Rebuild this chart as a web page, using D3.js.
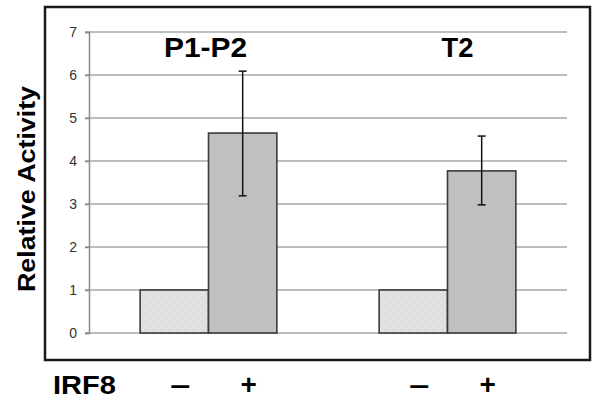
<!DOCTYPE html>
<html>
<head>
<meta charset="utf-8">
<script src="https://cdn.jsdelivr.net/npm/d3@7"></script>
<style>
  body { margin: 0; background: #fff; }
  svg { display: block; font-family: "Liberation Sans", Arial, sans-serif; }
</style>
</head>
<body>
<div id="chartId"></div>
<script>
// data
var groups = ["P1-P2", "T2"];
var conditions = ["-", "+"];
var condLabels = ["\u2013", "+"];
var means = [[1, 4.65], [1, 3.77]];
var errLow = [[null, 3.19], [null, 2.98]];
var errHigh = [[null, 6.09], [null, 4.58]];
var yTicks = [0, 1, 2, 3, 4, 5, 6, 7];

var rows = [];
groups.forEach(function (g, gi) {
  conditions.forEach(function (c, ci) {
    rows.push({ group: g, cond: c, label: condLabels[ci], value: means[gi][ci],
                lo: errLow[gi][ci], hi: errHigh[gi][ci] });
  });
});

var svg = d3.select("div#chartId")
  .append("svg")
  .attr("width", 600)
  .attr("height", 403);

// pattern for the "-" bars (light, faintly dotted)
var pat = svg.append("defs").append("pattern")
  .attr("id", "dots")
  .attr("patternUnits", "userSpaceOnUse")
  .attr("width", 8).attr("height", 8);
pat.append("rect").attr("width", 8).attr("height", 8).attr("fill", "#e2e2e2");
pat.append("rect").attr("x", 1).attr("y", 1).attr("width", 3).attr("height", 3).attr("fill", "#dadada");
pat.append("rect").attr("x", 5).attr("y", 5).attr("width", 2).attr("height", 2).attr("fill", "#dcdcdc");

// outer frame
svg.append("rect")
  .attr("x", 45).attr("y", 7)
  .attr("width", 545).attr("height", 353)
  .attr("fill", "none")
  .attr("stroke", "#1a1a1a")
  .attr("stroke-width", 2.5);

var y = d3.scaleLinear().domain([0, 7]).range([333, 32]);
var x0 = d3.scaleBand().domain(groups).range([89, 567])
  .paddingInner(0.428).paddingOuter(0.214);
var x1 = d3.scaleBand().domain(conditions).range([0, x0.bandwidth()]);

// gridlines
svg.append("g")
  .selectAll("line")
  .data(yTicks)
  .join("line")
  .attr("x1", 85).attr("x2", 567)
  .attr("y1", function (d) { return y(d); })
  .attr("y2", function (d) { return y(d); })
  .attr("stroke", "#a8a8a8")
  .attr("stroke-width", 1.5);

// y axis
var yAxis = svg.append("g")
  .attr("transform", "translate(89,0)")
  .call(d3.axisLeft(y).tickValues(yTicks).tickFormat(d3.format("d")).tickSize(4).tickPadding(8));
yAxis.select(".domain").attr("stroke", "#8a8a8a").attr("stroke-width", 1.5);
yAxis.selectAll(".tick line").attr("stroke", "#8a8a8a").attr("stroke-width", 1.5);
yAxis.selectAll(".tick text")
  .attr("font-size", 14)
  .attr("fill", "#333")
  .attr("font-family", "Liberation Sans, Arial, sans-serif");

svg.append("text")
  .attr("transform", "translate(35,189) rotate(-90)")
  .attr("text-anchor", "middle")
  .attr("font-size", 23)
  .attr("font-weight", "bold")
  .attr("textLength", 206)
  .attr("lengthAdjust", "spacingAndGlyphs")
  .text("Relative Activity");

// bars
svg.append("g")
  .selectAll("rect")
  .data(rows)
  .join("rect")
  .attr("x", function (d) { return x0(d.group) + x1(d.cond); })
  .attr("y", function (d) { return y(d.value); })
  .attr("width", x1.bandwidth())
  .attr("height", function (d) { return y(0) - y(d.value); })
  .attr("fill", function (d) { return d.cond === "-" ? "url(#dots)" : "#c0c0c0"; })
  .attr("stroke", "#3a3a3a")
  .attr("stroke-width", 1.6);

// error bars
var errs = rows.filter(function (d) { return d.hi !== null; });
var eg = svg.append("g").attr("stroke", "#111").attr("stroke-width", 1.5);
errs.forEach(function (d) {
  var cx = x0(d.group) + x1(d.cond) + x1.bandwidth() / 2;
  eg.append("line").attr("x1", cx).attr("x2", cx).attr("y1", y(d.hi)).attr("y2", y(d.lo));
  eg.append("line").attr("x1", cx - 4).attr("x2", cx + 4).attr("y1", y(d.hi)).attr("y2", y(d.hi));
  eg.append("line").attr("x1", cx - 4).attr("x2", cx + 4).attr("y1", y(d.lo)).attr("y2", y(d.lo));
});

// group titles
var titleLen = { "P1-P2": 83, "T2": 32 };
svg.append("g")
  .selectAll("text")
  .data(groups)
  .join("text")
  .attr("x", function (g) { return x0(g) + x0.bandwidth() / 2 - (g === "T2" ? -10 : 3); })
  .attr("y", 57)
  .attr("text-anchor", "middle")
  .attr("font-size", 28)
  .attr("font-weight", "bold")
  .attr("textLength", function (g) { return titleLen[g]; })
  .attr("lengthAdjust", "spacingAndGlyphs")
  .text(function (g) { return g; });

// IRF8 row
svg.append("text")
  .attr("x", 53).attr("y", 394)
  .attr("font-size", 26)
  .attr("font-weight", "bold")
  .attr("textLength", 63)
  .attr("lengthAdjust", "spacingAndGlyphs")
  .text("IRF8");

svg.append("g")
  .selectAll("text")
  .data(rows)
  .join("text")
  .attr("x", function (d) { return x0(d.group) + x1(d.cond) + x1.bandwidth() / 2 + 6; })
  .attr("y", 394)
  .attr("text-anchor", "middle")
  .attr("font-size", 28)
  .attr("font-weight", "bold")
  .attr("textLength", function (d) { return d.cond === "-" ? 20 : null; })
  .attr("lengthAdjust", "spacingAndGlyphs")
  .text(function (d) { return d.label; });
</script>
</body>
</html>
